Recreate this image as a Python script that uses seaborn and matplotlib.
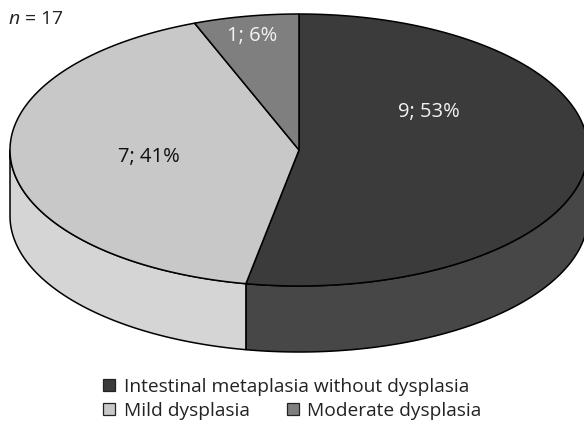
import numpy as np
import matplotlib
matplotlib.use("Agg")
import matplotlib.pyplot as plt
from matplotlib.patches import Polygon, Patch
import seaborn as sns

# Case counts per histological finding
categories = ["Intestinal metaplasia without dysplasia", "Mild dysplasia", "Moderate dysplasia"]
counts = [9, 7, 1]
top_colors = ["#3b3b3b", "#c8c8c8", "#7f7f7f"]
side_colors = ["#474747", "#d5d5d5", "#8a8a8a"]

sns.set_theme(style="white")
plt.rcParams["font.family"] = ["Open Sans", "DejaVu Sans"]
plt.rcParams["mathtext.fontset"] = "custom"
plt.rcParams["mathtext.it"] = "Open Sans:italic"

W, H = 584, 423
fig = plt.figure(figsize=(W / 100, H / 100), dpi=100)
ax = fig.add_axes([0, 0, 1, 1])
ax.set_xlim(0, W)
ax.set_ylim(H, 0)
ax.axis("off")

# Disc geometry (pixel units): top ellipse centre, semi-axes, thickness
cx, cy, a, b, depth = 299, 150, 289, 136, 66

def ellipse_pts(t0, t1, dy=0.0, n=200):
    t = np.radians(np.linspace(t0, t1, n))
    return np.column_stack([cx + a * np.sin(t), cy - b * np.cos(t) + dy])

total = sum(counts)
angles = np.concatenate([[0], np.cumsum(counts) / total * 360.0])

# Front wall of the disc (only the near half, 90..270 degrees, is visible)
for i in range(len(counts)):
    lo, hi = max(angles[i], 90), min(angles[i + 1], 270)
    if hi <= lo:
        continue
    upper = ellipse_pts(lo, hi)
    lower = ellipse_pts(lo, hi, dy=depth)[::-1]
    ax.add_patch(Polygon(np.vstack([upper, lower]), closed=True,
                         facecolor=side_colors[i], edgecolor="black", lw=1.1, joinstyle="round"))

# Top face wedges
for i in range(len(counts)):
    arc = ellipse_pts(angles[i], angles[i + 1])
    ax.add_patch(Polygon(np.vstack([[cx, cy], arc]), closed=True,
                         facecolor=top_colors[i], edgecolor="black", lw=1.1, joinstyle="round"))

# Slice labels: "count; percent"
label_radius = [0.45, 0.52, 0.88]
label_lift = [-44, 0, 4]
label_colors = ["#f2f2f2", "#111111", "#f2f2f2"]
for i, c in enumerate(counts):
    mid = np.radians((angles[i] + angles[i + 1]) / 2)
    x = cx + a * label_radius[i] * np.sin(mid)
    y = cy - b * label_radius[i] * np.cos(mid) + label_lift[i]
    ax.text(x, y, f"{c}; {round(100 * c / total)}%", ha="center", va="center",
            fontsize=14.5, color=label_colors[i])

ax.text(8, 19, r"$\mathit{n}$ = " + str(total), ha="left", va="center", fontsize=14, color="#222222")

# Legend: first entry on its own row, the other two side by side below
handles = [Patch(facecolor=top_colors[i], edgecolor="#222222", lw=0.9) for i in range(3)]
leg_kw = dict(frameon=False, fontsize=13.8, handlelength=0.62, handleheight=0.62,
              handletextpad=0.45, borderaxespad=0, borderpad=0, labelcolor="#222222")
leg1 = ax.legend(handles[:1], categories[:1], loc="center left",
                 bbox_to_anchor=(103 / W, 1 - 387 / H), **leg_kw)
ax.add_artist(leg1)
ax.legend(handles[1:], categories[1:], loc="center left", ncol=2, columnspacing=1.95,
          bbox_to_anchor=(103 / W, 1 - 411 / H), **leg_kw)

fig.savefig("out.png", dpi=100, facecolor="white")
